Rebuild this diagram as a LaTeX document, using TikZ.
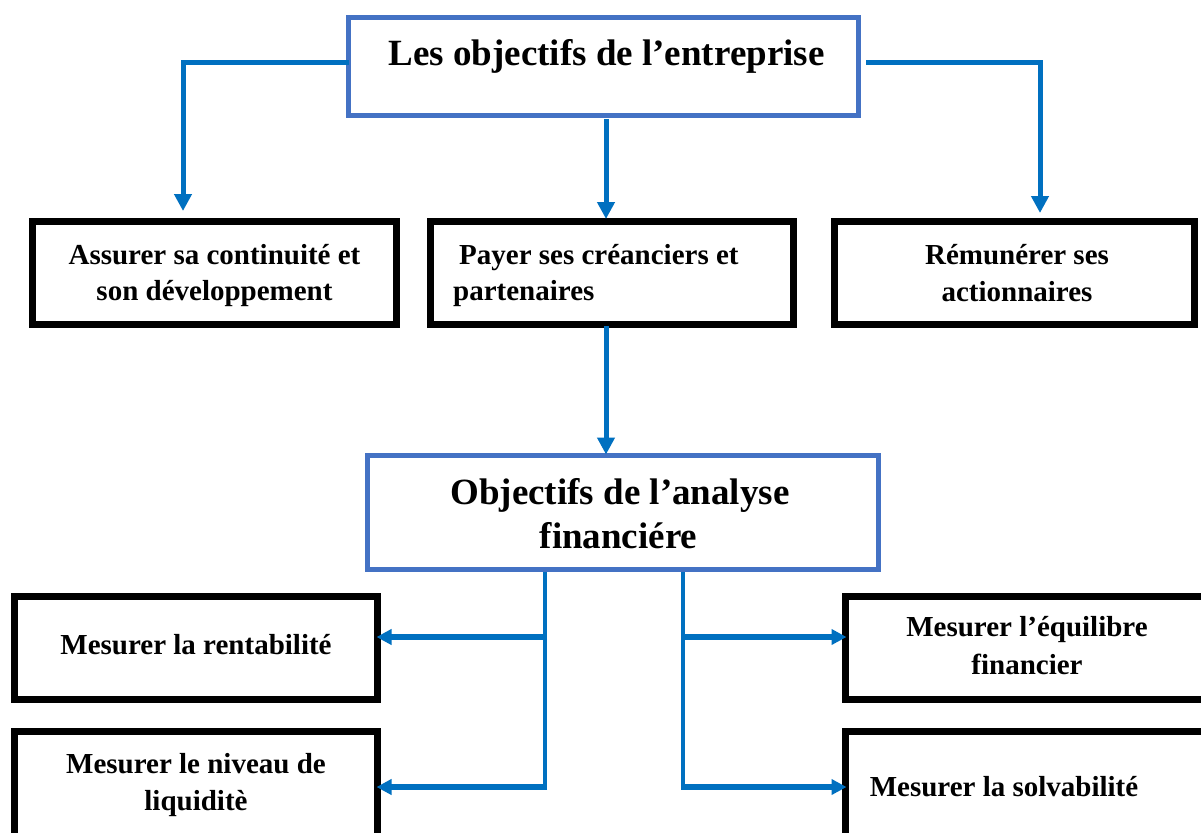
\documentclass[tikz,border=0pt]{standalone}
\usepackage{fontspec}
\setmainfont{Liberation Serif}
\usetikzlibrary{arrows.meta}
\definecolor{boxblue}{HTML}{4472C4}
\definecolor{arrowblue}{HTML}{0070C0}
\begin{document}
\begin{tikzpicture}[x=1pt,y=-1pt,
  bluebox/.style={draw=boxblue,line width=5pt,fill=white,inner sep=0pt,outer sep=0pt,rectangle},
  blackbox/.style={draw=black,line width=7pt,fill=white,inner sep=0pt,outer sep=0pt,rectangle},
  conn/.style={draw=arrowblue,line width=5pt},
  vconn/.style={draw=arrowblue,line width=4pt},
  hconn/.style={draw=arrowblue,line width=6pt},
  arr/.style={-{Triangle[length=17pt,width=17pt]}},
  harr/.style={-{Triangle[length=15pt,width=15pt]}},
  ttl/.style={anchor=base,inner sep=0pt,font=\fontsize{37}{44}\selectfont\bfseries},
  txt/.style={anchor=base,inner sep=0pt,font=\fontsize{29}{36}\selectfont\bfseries},
  txtw/.style={anchor=base west,inner sep=0pt,font=\fontsize{29}{36}\selectfont\bfseries}]
\useasboundingbox (0,0) rectangle (1201,832);
\clip (0,0) rectangle (1201,832);
\fill[white] (0,0) rectangle (1201,832);

% boxes
\node[bluebox,minimum width=510pt,minimum height=98pt] (top) at (603.5,66.5) {};
\node[blackbox,minimum width=364pt,minimum height=103pt] (b1) at (214.5,273) {};
\node[blackbox,minimum width=363pt,minimum height=103pt] (b2) at (612,273) {};
\node[blackbox,minimum width=360pt,minimum height=103pt] (b3) at (1014.5,273) {};
\node[bluebox,minimum width=511pt,minimum height=114pt] (mid) at (623,512.5) {};
\node[blackbox,minimum width=363pt,minimum height=103pt] (l1) at (196,648) {};
\node[blackbox,minimum width=363pt,minimum height=169pt] (l2) at (196,815.5) {};
\node[blackbox,minimum width=454pt,minimum height=103pt] (r1) at (1072.5,648) {};
\node[blackbox,minimum width=454pt,minimum height=169pt] (r2) at (1072.5,815.5) {};

% texts
\node[ttl] (t0) at (606.5,66) {Les objectifs de l’entreprise};
\node[txt] (t1a) at (214.5,264) {Assurer sa continuité et};
\node[txt] (t1b) at (214.5,300) {son développement};
\node[txtw] (t2a) at (459,264) {Payer ses créanciers et};
\node[txtw] (t2b) at (453,300) {partenaires};
\node[txt] (t3a) at (1017,264) {Rémunérer ses};
\node[txt] (t3b) at (1017,301) {actionnaires};
\node[ttl] (t4a) at (620,504) {Objectifs de l’analyse};
\node[ttl] (t4b) at (618.5,548) {financiére};
\node[txt] (t5) at (196,654) {Mesurer la rentabilité};
\node[txt] (t6a) at (196,773) {Mesurer le niveau de};
\node[txt] (t6b) at (196,810) {liquiditè};
\node[txt] (t7a) at (1027,636) {Mesurer l’équilibre};
\node[txt] (t7b) at (1027,674) {financier};
\node[txt] (t8) at (1004,796) {Mesurer la solvabilité};

% connector points
\coordinate (a1) at (183,211);
\coordinate (r0) at (866,63);
\coordinate (a3) at (1040,213);
\coordinate (m0) at (606,119);
\coordinate (a2) at (606,219);
\coordinate (p0) at (606,326);
\coordinate (vl) at (545,572);
\coordinate (vr) at (683,572);
\coordinate (jl1) at (545,637);
\coordinate (jl2) at (545,787);
\coordinate (jr1) at (683,637);
\coordinate (jr2) at (683,787);

% connectors
\draw[conn,arr] ([yshift=3.5pt]top.west) -| (a1);
\draw[conn,arr] (r0) -| (a3);
\draw[conn,arr] (m0) -- (a2);
\draw[conn,arr] (p0) -- ([yshift=1pt]p0 |- mid.north);
\draw[vconn] (vl) -- ([yshift=-3pt]jl2);
\draw[vconn] (vr) -- ([yshift=-3pt]jr2);
\draw[hconn,harr] ([xshift=2pt]jl1) -- ([xshift=-1pt]jl1 -| l1.east);
\draw[hconn,harr] ([xshift=2pt]jl2) -- ([xshift=-1pt]jl2 -| l2.east);
\draw[hconn,harr] ([xshift=-2pt]jr1) -- ([xshift=1pt]jr1 -| r1.west);
\draw[hconn,harr] ([xshift=-2pt]jr2) -- ([xshift=1pt]jr2 -| r2.west);
\end{tikzpicture}
\end{document}
